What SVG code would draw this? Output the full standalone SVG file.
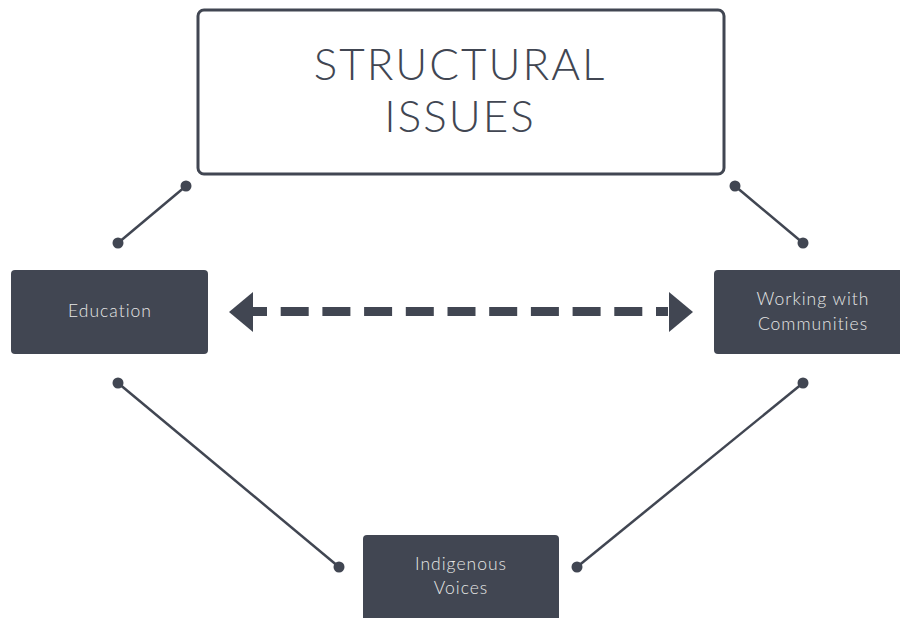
<svg xmlns="http://www.w3.org/2000/svg" width="900" height="618" viewBox="0 0 900 618">
<style>
.node rect.dark{fill:#414652}
.lbl{font-family:Lato,"Open Sans","Liberation Sans",sans-serif;font-weight:300;font-size:17.5px;fill:#e6e6e6;text-anchor:middle;letter-spacing:1px}
.title{font-family:Lato,"Liberation Sans",sans-serif;font-weight:300;font-size:44px;fill:#414652;text-anchor:middle;letter-spacing:2px}
.conn line{stroke:#414652;stroke-width:2.5}
.conn circle{fill:#414652}
</style>
<rect width="900" height="618" fill="#ffffff"/>
<g id="structural-issues" class="node">
<rect x="198" y="10" width="526" height="164" rx="6" fill="#ffffff" stroke="#414652" stroke-width="3"/>
<text class="title" x="460" y="80">STRUCTURAL</text>
<text class="title" x="460" y="132">ISSUES</text>
</g>
<g id="education" class="node">
<rect class="dark" x="11" y="270" width="197" height="84" rx="4"/>
<text class="lbl" x="110" y="317">Education</text>
</g>
<g id="working-with-communities" class="node">
<rect class="dark" x="714" y="270" width="190" height="84" rx="4"/>
<text class="lbl" x="813" y="305">Working with</text>
<text class="lbl" x="813" y="330">Communities</text>
</g>
<g id="indigenous-voices" class="node">
<rect class="dark" x="363" y="535" width="196" height="88" rx="4"/>
<text class="lbl" x="461" y="570">Indigenous</text>
<text class="lbl" x="461" y="594">Voices</text>
</g>
<g id="connectors" class="conn">
<line x1="186" y1="186" x2="118" y2="243"/>
<circle cx="186" cy="186" r="5.5"/><circle cx="118" cy="243" r="5.5"/>
<line x1="735" y1="186" x2="803" y2="243"/>
<circle cx="735" cy="186" r="5.5"/><circle cx="803" cy="243" r="5.5"/>
<line x1="118" y1="383" x2="339" y2="567"/>
<circle cx="118" cy="383" r="5.5"/><circle cx="339" cy="567" r="5.5"/>
<line x1="803" y1="383" x2="577" y2="567"/>
<circle cx="803" cy="383" r="5.5"/><circle cx="577" cy="567" r="5.5"/>
<line x1="253" y1="311.5" x2="668" y2="311.5" style="stroke-width:9;stroke-dasharray:28 13.7;stroke-dashoffset:14"/>
<polygon points="229,312 253,292 253,332" fill="#414652"/>
<polygon points="693,312 669,292 669,332" fill="#414652"/>
</g>
</svg>
